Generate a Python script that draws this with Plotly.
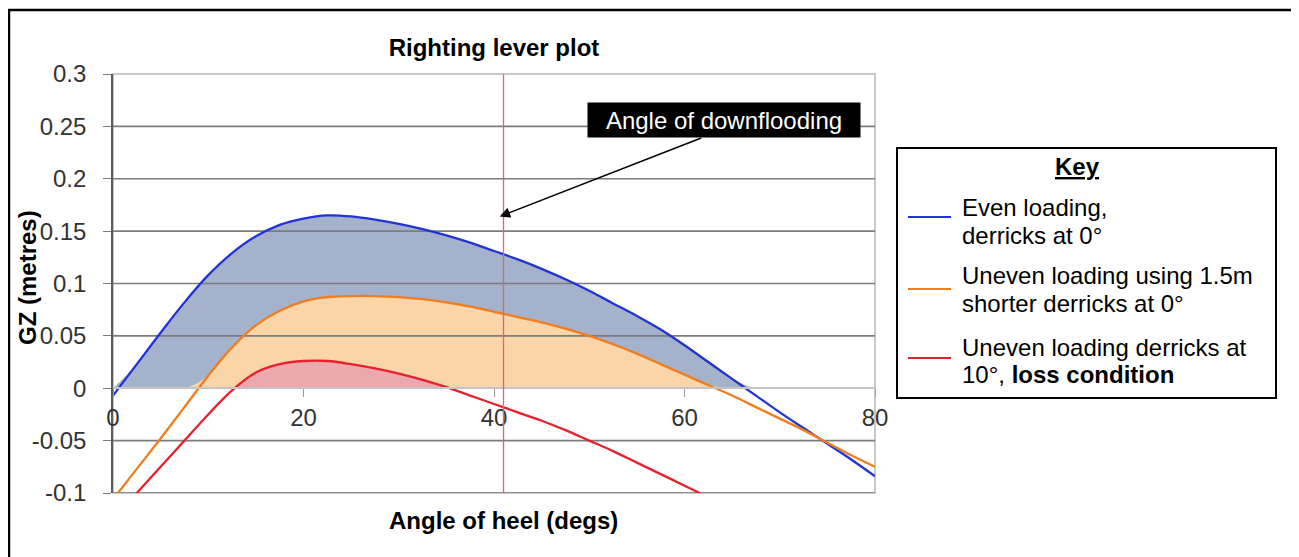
import plotly.graph_objects as go

# ---------------- data ----------------
heel_deg = [0, 2.5, 5, 7.5, 10, 12.5, 15, 17.5, 20, 22.5, 25, 27.5, 30, 32.5, 35, 37.5, 40, 42.5, 45, 47.5,
            50, 52.5, 55, 57.5, 60, 62.5, 65, 67.5, 70, 72.5, 75, 77.5, 80]

gz_even = [-0.007, 0.023, 0.053, 0.082, 0.108, 0.129, 0.145, 0.156, 0.162, 0.165, 0.164, 0.161, 0.157, 0.152,
           0.146, 0.139, 0.131, 0.123, 0.114, 0.104, 0.093, 0.081, 0.069, 0.056, 0.041, 0.025, 0.009, -0.007,
           -0.023, -0.038, -0.053, -0.068, -0.084]

gz_uneven = [-0.106, -0.077, -0.048, -0.018, 0.012, 0.039, 0.060, 0.074, 0.083, 0.087, 0.088, 0.088, 0.087,
             0.085, 0.082, 0.078, 0.073, 0.068, 0.063, 0.057, 0.050, 0.042, 0.033, 0.023, 0.013, 0.003, -0.007,
             -0.018, -0.029, -0.040, -0.052, -0.064, -0.075]

loss_deg = [0, 2.5, 5, 7.5, 10, 12.5, 15, 17.5, 20, 22.5, 25, 27.5, 30, 32.5, 35, 37.5, 40, 42.5, 45, 47.5,
            50, 52.5, 55, 57.5, 60, 62.5]
gz_loss = [-0.125, -0.100, -0.075, -0.050, -0.025, -0.002, 0.015, 0.023, 0.026, 0.026, 0.023, 0.019, 0.014, 0.008,
           0.001, -0.007, -0.015, -0.023, -0.031, -0.040, -0.050, -0.060, -0.071, -0.082, -0.093, -0.104]

x_ticks = [0, 20, 40, 60, 80]
y_ticks = [-0.1, -0.05, 0, 0.05, 0.1, 0.15, 0.2, 0.25, 0.3]
y_tick_text = ["-0.1", "-0.05", "0", "0.05", "0.1", "0.15", "0.2", "0.25", "0.3"]

downflood_angle = 41
arrow_tip = (40.6, 0.164)
note_center = (64.1, 0.256)

series_names = ["Even loading,", "Uneven loading using 1.5m", "Uneven loading derricks at"]
series_names2 = ["derricks at 0°", "shorter derricks at 0°", "10°, <b>loss condition</b>"]

# ---------------- styles / layout ----------------
FONT = "Liberation Sans, Arial, sans-serif"
OFF = 8                       # page body margin
PAGE_W, PAGE_H = 1299, 557
W, H = PAGE_W - OFF, PAGE_H - OFF
PLOT_L, PLOT_R, PLOT_T, PLOT_B = 113, 875, 74, 493   # page pixels
ML, MR, MT, MB = PLOT_L - OFF, PAGE_W - PLOT_R, PLOT_T - OFF, PAGE_H - PLOT_B
PW, PH = PLOT_R - PLOT_L, PLOT_B - PLOT_T

line_cols = ["#2233d6", "#f07d20", "#e6212d"]
fill_cols = ["#a4b2cb", "#f9d5a7", "#eca8ae"]
X_RANGE = [0, 80]
Y_RANGE = [-0.1, 0.3]


def px(xp):
    return (xp - PLOT_L) / PW


def py(yp):
    return (PLOT_B - yp) / PH


fig = go.Figure()

series = [(heel_deg, gz_even), (heel_deg, gz_uneven), (loss_deg, gz_loss)]

# fills (positive part of each curve, down to GZ = 0)
for (xs, ys), fc in zip(series, fill_cols):
    fy = [max(y, 0) for y in ys]
    fig.add_trace(go.Scatter(x=xs, y=fy, mode="lines", line=dict(width=0, shape="spline", color=fc),
                             fill="tozeroy", fillcolor=fc, hoverinfo="skip", showlegend=False))

# horizontal gridlines drawn above the fills
for v in y_ticks:
    if v in (0, Y_RANGE[1]):
        continue
    fig.add_trace(go.Scatter(x=X_RANGE, y=[v, v], mode="lines", line=dict(color="#7c7c7c", width=1.6),
                             hoverinfo="skip", showlegend=False))

# curves
for (xs, ys), lc in zip(series, line_cols):
    fig.add_trace(go.Scatter(x=xs, y=ys, mode="lines", line=dict(color=lc, width=2.3, shape="spline"),
                             showlegend=False))

shapes = []
shapes.append(dict(type="rect", xref="paper", yref="paper", x0=0, x1=1, y0=0, y1=1,
                   line=dict(color="#b8b8b8", width=1.5), layer="below"))
shapes.append(dict(type="line", xref="x", yref="paper", x0=downflood_angle, x1=downflood_angle, y0=0, y1=1,
                   line=dict(color="#d06a7c", width=1.3)))
# outer frame
shapes.append(dict(type="rect", xref="paper", yref="paper", x0=px(OFF + 1), x1=px(1293), y0=py(570), y1=py(10),
                   line=dict(color="black", width=2.5)))
# key box
shapes.append(dict(type="rect", xref="paper", yref="paper", x0=px(897), x1=px(1276), y0=py(398), y1=py(148),
                   line=dict(color="black", width=2)))
for lc, yp in zip(line_cols, [217, 289, 358]):
    shapes.append(dict(type="line", xref="paper", yref="paper", x0=px(908), x1=px(951), y0=py(yp), y1=py(yp),
                       line=dict(color=lc, width=2.2)))


def txt(text, xp, yp, size=24, xanchor="center", **kw):
    d = dict(text=text, xref="paper", yref="paper", x=px(xp), y=py(yp), xanchor=xanchor, yanchor="middle",
             showarrow=False, font=dict(size=size, color="black", family=FONT))
    d.update(kw)
    return d


ann = []
ann.append(txt("<b>GZ (metres)</b>", 27, 278, textangle=-90))
ann.append(txt("<b>Angle of heel (degs)</b>", 503, 520))
ann.append(txt("<b><u>Key</u></b>", 1077, 167))
for t1, t2, y1, y2 in zip(series_names, series_names2, [207, 275, 347], [235, 303, 375]):
    ann.append(txt(t1, 960, y1, xanchor="left"))
    ann.append(txt(t2, 960, y2, xanchor="left"))
ann.append(dict(text="Angle of downflooding", xref="x", yref="y", x=note_center[0], y=note_center[1],
                xanchor="center", yanchor="middle",
                showarrow=False, bgcolor="black", font=dict(size=24, color="white", family=FONT),
                width=266, height=28, borderpad=3))
ann.append(dict(text="", xref="x", yref="y", x=arrow_tip[0], y=arrow_tip[1], ax=203, ay=-79,
                showarrow=True, arrowhead=2, arrowsize=1.3, arrowwidth=1.6, arrowcolor="black"))

fig.update_layout(
    width=W, height=H,
    margin=dict(l=ML, r=MR, t=MT, b=MB, pad=0),
    paper_bgcolor="white", plot_bgcolor="white",
    title=dict(text="<b>Righting lever plot</b>", x=px(494), xref="paper", xanchor="center",
               y=1 - (48 - OFF) / H, yanchor="middle", font=dict(size=24, color="black", family=FONT)),
    shapes=shapes, annotations=ann,
    xaxis=dict(range=X_RANGE, tickvals=x_ticks, anchor="free", position=(0 - Y_RANGE[0]) / (Y_RANGE[1] - Y_RANGE[0]),
               showline=True, linecolor="#c4c4c4", linewidth=1.6, ticks="outside", ticklen=8, tickcolor="#9a9a9a",
               showgrid=False, zeroline=False, tickfont=dict(size=24, color="#333", family=FONT),
               ticklabelstandoff=0),
    yaxis=dict(range=Y_RANGE, tickvals=y_ticks, ticktext=y_tick_text, showline=True, linecolor="#5a5a5a",
               linewidth=1.6, ticks="outside", ticklen=8, tickcolor="#7c7c7c", showgrid=False, zeroline=False,
               tickfont=dict(size=24, color="#333", family=FONT), ticklabelstandoff=12),
    font=dict(family=FONT),
)

fig.write_html("out.html")
